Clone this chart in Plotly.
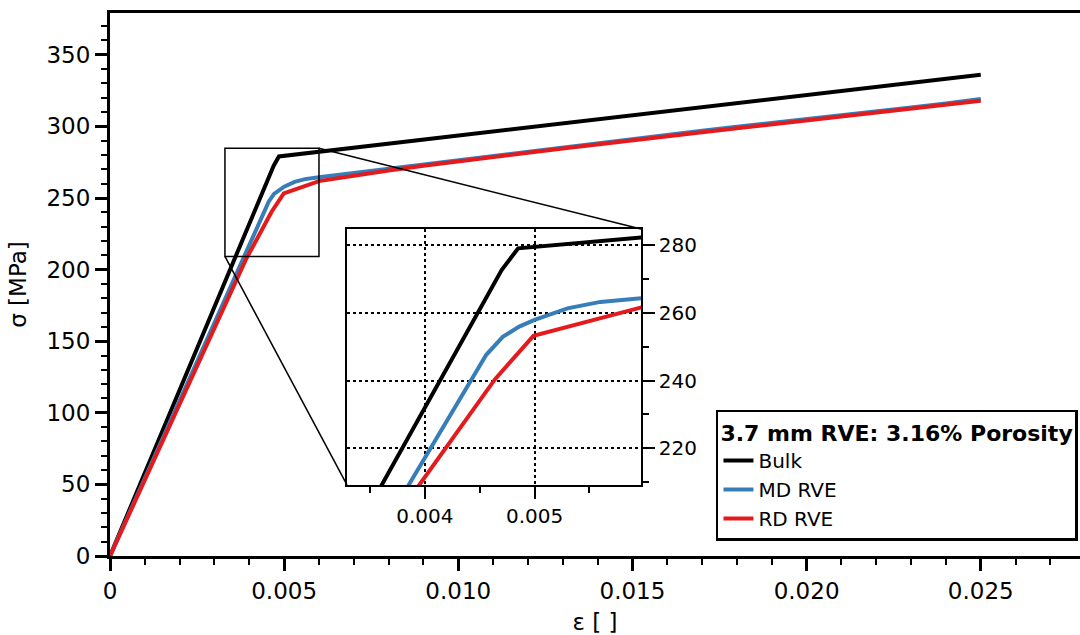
import plotly.graph_objects as go

# ---------------- data ----------------
strain_bulk = [0.0, 0.0047, 0.00485, 0.025]
stress_bulk = [0.0, 272.6, 279.0, 336.0]

strain_md = [0.0, 0.00456, 0.00471, 0.00486, 0.0050, 0.0053, 0.0056, 0.0060,
             0.007, 0.008, 0.009, 0.010, 0.011, 0.012, 0.013, 0.014, 0.015,
             0.016, 0.017, 0.018, 0.019, 0.020, 0.021, 0.022, 0.023, 0.024, 0.025]
stress_md = [0.0, 247.6, 252.9, 255.9, 257.9, 261.3, 263.2, 264.5,
             267.5, 270.3, 273.2, 276.5, 279.5, 282.5, 285.5, 288.5, 291.5,
             294.2, 297.0, 299.7, 302.3, 305.0, 307.7, 310.5, 313.2, 316.0, 319.2]

strain_rd = [0.0, 0.0039, 0.00464, 0.00499, 0.0060,
             0.007, 0.008, 0.009, 0.010, 0.011, 0.012, 0.013, 0.014, 0.015,
             0.016, 0.017, 0.018, 0.019, 0.020, 0.021, 0.022, 0.023, 0.024, 0.025]
stress_rd = [0.0, 207.0, 240.4, 253.2, 261.8,
             265.8, 269.2, 272.6, 275.8, 278.7, 281.6, 284.5, 287.5, 290.4,
             293.2, 296.0, 298.7, 301.4, 304.1, 306.8, 309.6, 312.3, 315.1, 318.0]

series_names = ["Bulk", "MD RVE", "RD RVE"]
series_colors = ["#000000", "#377EB8", "#E41A1C"]

main_xticks = [0, 0.005, 0.010, 0.015, 0.020, 0.025]
main_xticktext = ["0", "0.005", "0.010", "0.015", "0.020", "0.025"]
main_yticks = [0, 50, 100, 150, 200, 250, 300, 350]
inset_xticks = [0.004, 0.005]
inset_xticktext = ["0.004", "0.005"]
inset_yticks = [220, 240, 260, 280]

legend_title = "<b>3.7 mm RVE: 3.16% Porosity</b>"

# ---------------- layout constants ----------------
XMAX, YMAX = 0.02785, 379.2
ZX0, ZX1, ZY0, ZY1 = 0.0033, 0.0060, 209.2, 284.7   # zoom window
INSET_DX = [0.2443, 0.5474]
INSET_DY = [0.1308, 0.6022]
FONT = "DejaVu Sans, Liberation Sans, Arial, sans-serif"

fig = go.Figure()
data = [(strain_bulk, stress_bulk), (strain_md, stress_md), (strain_rd, stress_rd)]
for (xs, ys), name, col in zip(data, series_names, series_colors):
    fig.add_trace(go.Scatter(x=xs, y=ys, mode="lines", name=name,
                             line=dict(color=col, width=4), xaxis="x", yaxis="y"))
for (xs, ys), name, col in zip(data, series_names, series_colors):
    fig.add_trace(go.Scatter(x=xs, y=ys, mode="lines", name=name, showlegend=False,
                             line=dict(color=col, width=4), xaxis="x2", yaxis="y2"))

axis_common = dict(showline=True, linecolor="black", ticks="outside",
                   tickcolor="black", showgrid=False, zeroline=False)

fig.update_layout(
    width=1080, height=635,
    margin=dict(l=110, r=0, t=13, b=79),
    paper_bgcolor="white", plot_bgcolor="white",
    font=dict(family=FONT, color="black"),
    xaxis=dict(axis_common, range=[0, XMAX], domain=[0, 1], linewidth=3,
               tickvals=main_xticks, ticktext=main_xticktext,
               ticklen=12, tickwidth=2.5, mirror=True,
               minor=dict(dtick=0.001, ticklen=6, tickwidth=2, ticks="outside", tickcolor="black"),
               tickfont=dict(size=23),
               title=dict(text="ε [ ]", font=dict(size=23), standoff=16)),
    yaxis=dict(axis_common, range=[0, YMAX], domain=[0, 1], linewidth=3,
               tickvals=main_yticks, ticklen=12, tickwidth=2.5,
               minor=dict(dtick=10, ticklen=6, tickwidth=2, ticks="outside", tickcolor="black"),
               tickfont=dict(size=23),
               title=dict(text="σ [MPa]", font=dict(size=23), standoff=14)),
    xaxis2=dict(axis_common, range=[0.00329, 0.00597], domain=INSET_DX, anchor="y2",
                linewidth=1.5, mirror=True,
                tickvals=inset_xticks, ticktext=inset_xticktext,
                ticklen=12, tickwidth=2,
                minor=dict(dtick=0.0005, ticklen=6, tickwidth=2, ticks="outside", tickcolor="black"),
                showgrid=True, gridcolor="black", griddash="dot", gridwidth=1.5,
                tickfont=dict(size=20)),
    yaxis2=dict(axis_common, range=[ZY0, ZY1], domain=INSET_DY, anchor="x2",
                side="right", linewidth=1.5, mirror=True,
                tickvals=inset_yticks, ticklen=12, tickwidth=2,
                minor=dict(dtick=10, ticklen=6, tickwidth=2, ticks="outside", tickcolor="black"),
                showgrid=True, gridcolor="black", griddash="dot", gridwidth=1.5,
                tickfont=dict(size=20)),
    legend=dict(x=0.6247, y=0.2689, xanchor="left", yanchor="top",
                bgcolor="white", bordercolor="black", borderwidth=2.5,
                font=dict(size=20), title=dict(text=legend_title, font=dict(size=22)),
                itemwidth=30, tracegroupgap=0),
    showlegend=True,
)

# zoom rectangle on main axes
fig.add_shape(type="rect", xref="x", yref="y", x0=ZX0, x1=ZX1, y0=ZY0, y1=ZY1,
              line=dict(color="black", width=1.5), fillcolor="rgba(0,0,0,0)")
# connector lines (paper coords)
fig.add_shape(type="line", xref="paper", yref="paper",
              x0=ZX1 / XMAX, y0=ZY1 / YMAX, x1=INSET_DX[1], y1=INSET_DY[1],
              line=dict(color="black", width=1.5))
fig.add_shape(type="line", xref="paper", yref="paper",
              x0=ZX0 / XMAX, y0=ZY0 / YMAX, x1=INSET_DX[0], y1=INSET_DY[0],
              line=dict(color="black", width=1.5))

fig.write_html("out.html")
